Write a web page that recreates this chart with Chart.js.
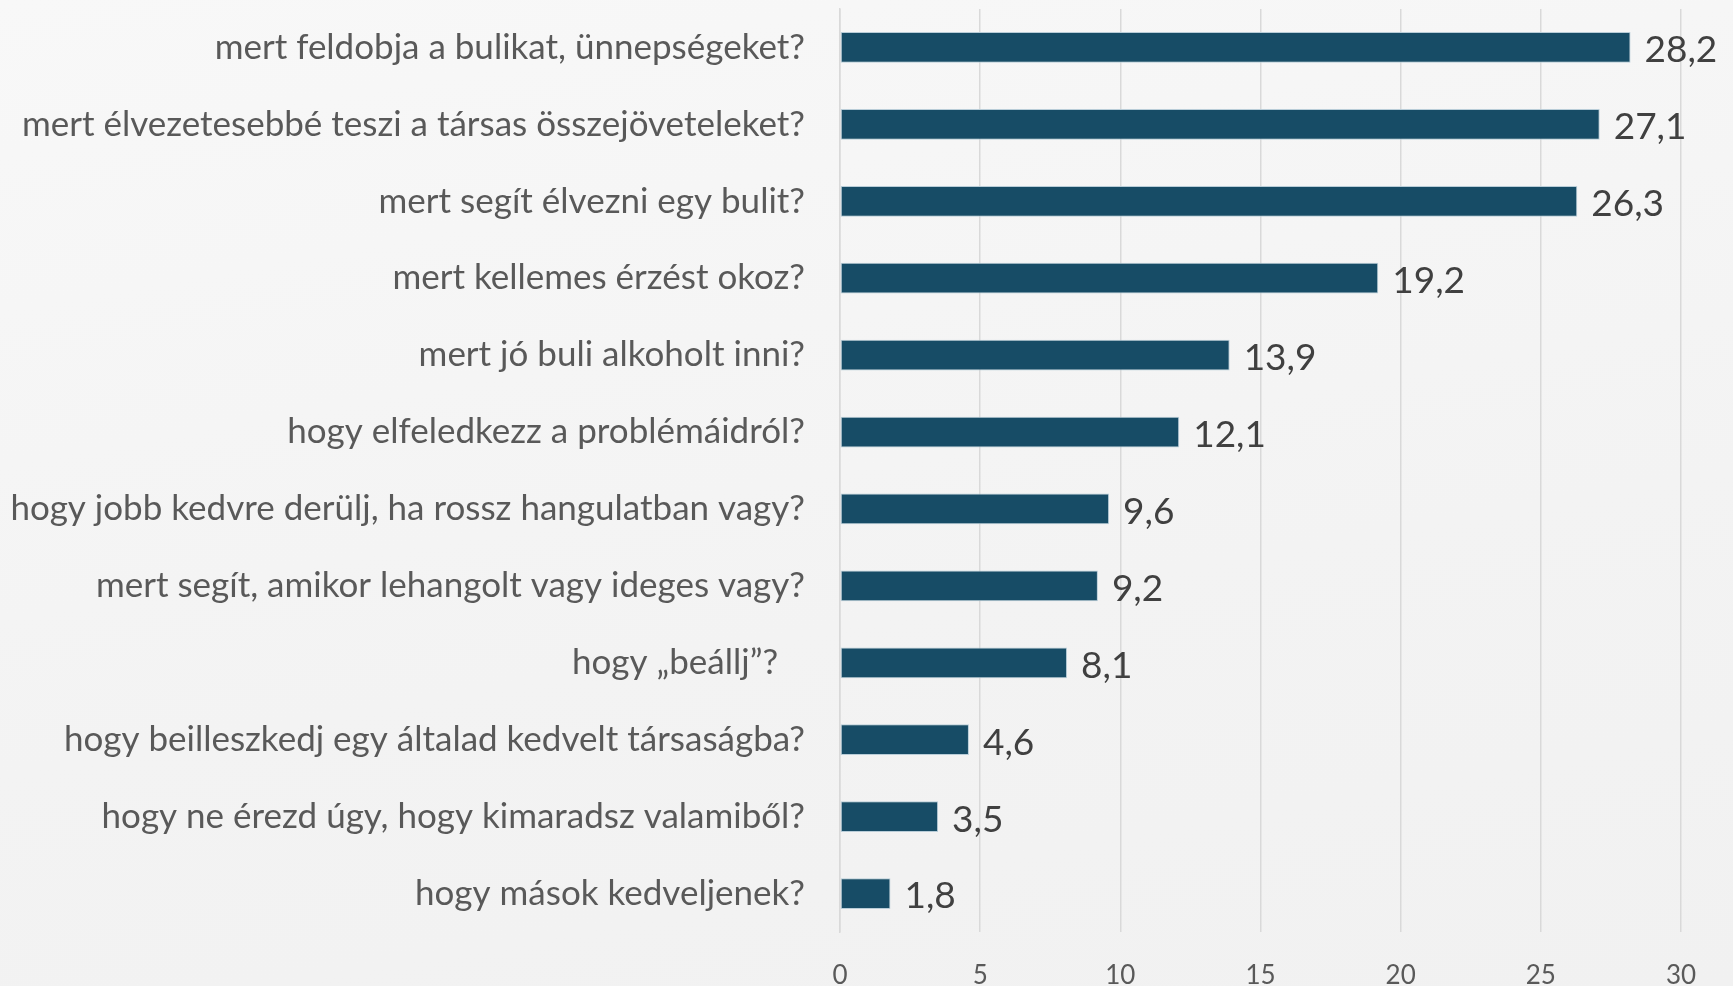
<!DOCTYPE html>
<html>
<head>
<meta charset="utf-8">
<script src="https://cdn.jsdelivr.net/npm/chart.js@4.4.1/dist/chart.umd.min.js"></script>
<style>
  html, body { margin: 0; padding: 0; }
  body {
    width: 1733px; height: 986px; overflow: hidden;
    background: linear-gradient(170deg, #f8f8f8 0%, #f3f3f3 60%, #f1f1f1 100%);
  }
</style>
</head>
<body>
<canvas id="reasonChart" width="1733" height="986"></canvas>
<script>
// kérdések (kategóriák) és százalékos értékek
const reasons = [
    'mert feldobja a bulikat, ünnepségeket?',
    'mert élvezetesebbé teszi a társas összejöveteleket?',
    'mert segít élvezni egy bulit?',
    'mert kellemes érzést okoz?',
    'mert jó buli alkoholt inni?',
    'hogy elfeledkezz a problémáidról?',
    'hogy jobb kedvre derülj, ha rossz hangulatban vagy?',
    'mert segít, amikor lehangolt vagy ideges vagy?',
    'hogy \u201ebeállj\u201d?   ',
    'hogy beilleszkedj egy általad kedvelt társaságba?',
    'hogy ne érezd úgy, hogy kimaradsz valamiből?',
    'hogy mások kedveljenek?'
];
const percentages = [28.2, 27.1, 26.3, 19.2, 13.9, 12.1, 9.6, 9.2, 8.1, 4.6, 3.5, 1.8];
const xTicks = [0, 5, 10, 15, 20, 25, 30];

const fontFamily = 'Lato, "Open Sans", sans-serif';

// simple value labels at the end of each bar
const valueLabels = {
    id: 'valueLabels',
    afterDatasetsDraw(chart) {
        const ctx = chart.ctx;
        const meta = chart.getDatasetMeta(0);
        ctx.save();
        ctx.font = '37px ' + fontFamily;
        ctx.fillStyle = '#404040';
        ctx.textAlign = 'left';
        ctx.textBaseline = 'middle';
        meta.data.forEach((bar, i) => {
            const txt = percentages[i].toFixed(1).replace('.', ',');
            ctx.fillText(txt, bar.x + 14, bar.y + 3);
        });
        ctx.restore();
    }
};

const ctx = document.getElementById('reasonChart').getContext('2d');
new Chart(ctx, {
    type: 'bar',
    data: {
        labels: reasons,
        datasets: [{
            data: percentages,
            backgroundColor: '#174c66',
            borderColor: '#b9cdd8',
            borderWidth: 1,
            borderSkipped: false,
            categoryPercentage: 1,
            barPercentage: 0.4
        }]
    },
    options: {
        indexAxis: 'y',
        responsive: false,
        animation: false,
        layout: { padding: { top: 9, right: 52, left: 0, bottom: 0 } },
        plugins: {
            legend: { display: false },
            tooltip: { enabled: false }
        },
        scales: {
            x: {
                min: 0,
                max: 30,
                afterBuildTicks: (scale) => { scale.ticks = xTicks.map(v => ({ value: v })); },
                afterFit: (scale) => { scale.height = 986 - 932; },
                grid: { color: '#d9d9d9', lineWidth: 1.5, drawTicks: false },
                border: { display: false },
                ticks: {
                    color: '#595959',
                    padding: 28,
                    font: { family: fontFamily, size: 26 }
                }
            },
            y: {
                afterFit: (scale) => {
                    scale.width = 840;
                    scale.paddingTop = 0;
                    scale.paddingBottom = 0;
                },
                grid: { display: false },
                border: { color: '#d9d9d9', width: 1.5 },
                ticks: {
                    color: '#595959',
                    padding: 27,
                    font: { family: fontFamily, size: 35 }
                }
            }
        }
    },
    plugins: [valueLabels]
});
</script>
</body>
</html>
